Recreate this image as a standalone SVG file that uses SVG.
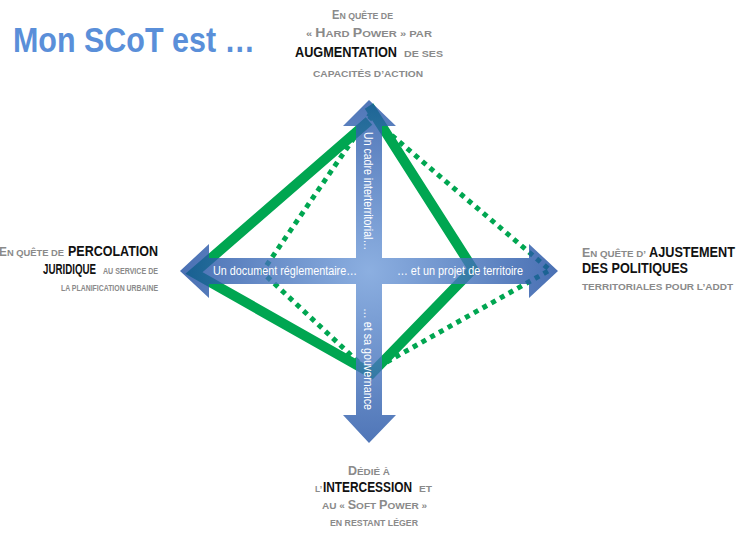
<svg xmlns="http://www.w3.org/2000/svg" width="744" height="533" viewBox="0 0 744 533">
<style>
text{font-family:"Liberation Sans",Arial,sans-serif;font-weight:bold;}
.t{font-size:35px;fill:#5a8fd9;}
.g text{fill:#8a8a8a;font-size:9.5px;}
.g text.k{font-size:14px;fill:#111;}
.b{font-size:12px;}
.w{font-size:12px;fill:#fff;font-weight:normal;}
.solid{fill:none;stroke:#00a651;stroke-width:10;stroke-linecap:butt;}
.dot{fill:none;stroke:#00a651;stroke-width:5;stroke-dasharray:5 5;}
</style>
<defs>
<radialGradient id="ax" gradientUnits="userSpaceOnUse" cx="369" cy="271" r="190">
<stop offset="0" stop-color="#6f9bd9"/>
<stop offset="1" stop-color="#1c4ca0"/>
</radialGradient>
</defs>
<rect width="744" height="533" fill="#fff"/>
<g id="title"><text class="t" x="13" y="52" textLength="242" lengthAdjust="spacingAndGlyphs">Mon SCoT est …</text></g>
<g id="connectors">
<path class="solid" d="M369,121 L194,273 L369,372"/>
<path class="solid" d="M369,106 L473,269 L369,376"/>
<path class="dot" d="M369,116 L550,270 L369,372 L262,272 Z"/>
</g>
<g id="axes">
<path fill="url(#ax)" opacity="0.8" d="M369,100 L396,126 L382,126 L382,258 L529,258 L529,244 L558,271 L529,298 L529,284 L382,284 L382,415 L396,415 L369,443 L343,415 L356,415 L356,284 L209,284 L209,298 L180,271 L209,244 L209,258 L356,258 L356,126 L343,126 Z"/>
<text class="w" x="213" y="275" textLength="144" lengthAdjust="spacingAndGlyphs">Un document réglementaire…</text>
<text class="w" x="397" y="275" textLength="126" lengthAdjust="spacingAndGlyphs">… et un projet de territoire</text>
<text class="w" transform="translate(364,132) rotate(90)" textLength="118" lengthAdjust="spacingAndGlyphs">Un cadre interterritorial…</text>
<text class="w" transform="translate(364,308) rotate(90)" textLength="102" lengthAdjust="spacingAndGlyphs">… et sa gouvernance</text>
</g>
<g id="label-top" class="g">
<text x="332" y="19" textLength="61" lengthAdjust="spacingAndGlyphs"><tspan class="b">E</tspan>N QUÊTE DE</text>
<text x="306" y="37" textLength="126" lengthAdjust="spacingAndGlyphs">« <tspan class="b">H</tspan>ARD <tspan class="b">P</tspan>OWER » PAR</text>
<text class="k" x="295" y="57" textLength="102" lengthAdjust="spacingAndGlyphs">AUGMENTATION</text>
<text x="404" y="57" textLength="39" lengthAdjust="spacingAndGlyphs">DE SES</text>
<text x="313" y="77" textLength="110" lengthAdjust="spacingAndGlyphs">CAPACITÉS D’ACTION</text>
</g>
<g id="label-left" class="g">
<text x="-1" y="256" textLength="65" lengthAdjust="spacingAndGlyphs"><tspan class="b">E</tspan>N QUÊTE DE</text>
<text class="k" x="68" y="256" textLength="90" lengthAdjust="spacingAndGlyphs">PERCOLATION</text>
<text class="k" x="43" y="274" textLength="53" lengthAdjust="spacingAndGlyphs">JURIDIQUE</text>
<text x="103" y="274" textLength="55" lengthAdjust="spacingAndGlyphs">AU SERVICE DE</text>
<text x="61" y="291" textLength="97" lengthAdjust="spacingAndGlyphs">LA PLANIFICATION URBAINE</text>
</g>
<g id="label-right" class="g">
<text x="582" y="257" textLength="64" lengthAdjust="spacingAndGlyphs"><tspan class="b">E</tspan>N QUÊTE D’</text>
<text class="k" x="649" y="257" textLength="86" lengthAdjust="spacingAndGlyphs">AJUSTEMENT</text>
<text class="k" x="582" y="273" textLength="106" lengthAdjust="spacingAndGlyphs">DES POLITIQUES</text>
<text x="582" y="290" textLength="151" lengthAdjust="spacingAndGlyphs">TERRITORIALES POUR L’ADDT</text>
</g>
<g id="label-bottom" class="g">
<text x="348" y="475" textLength="42" lengthAdjust="spacingAndGlyphs"><tspan class="b">D</tspan>ÉDIÉ À</text>
<text x="315" y="492" textLength="7" lengthAdjust="spacingAndGlyphs">L’</text>
<text class="k" x="323" y="492" textLength="89" lengthAdjust="spacingAndGlyphs">INTERCESSION</text>
<text x="419" y="492" textLength="13" lengthAdjust="spacingAndGlyphs">ET</text>
<text x="322" y="509" textLength="105" lengthAdjust="spacingAndGlyphs">AU « <tspan class="b">S</tspan>OFT <tspan class="b">P</tspan>OWER »</text>
<text x="330" y="526" textLength="88" lengthAdjust="spacingAndGlyphs">EN RESTANT LÉGER</text>
</g>
</svg>
